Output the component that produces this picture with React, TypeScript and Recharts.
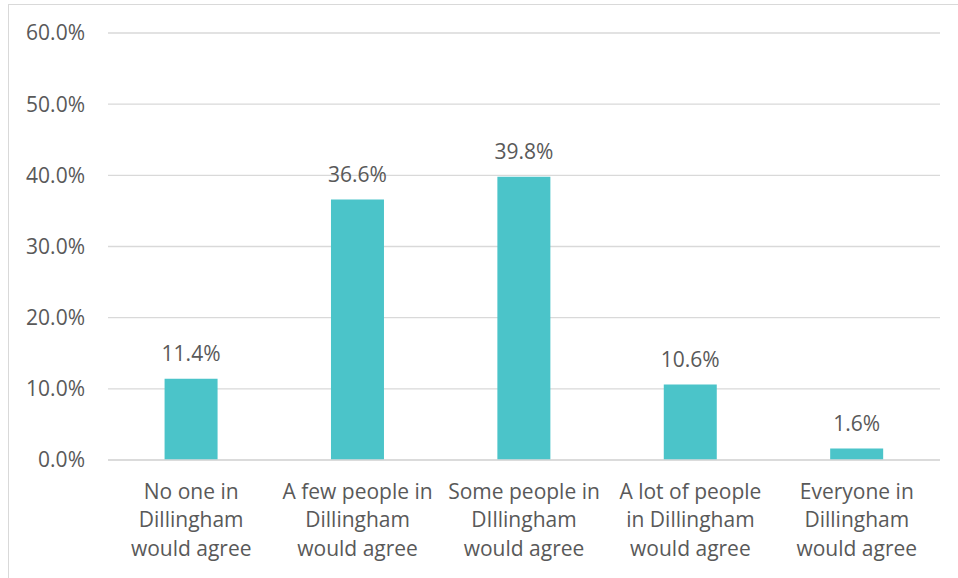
import { Bar, BarChart, CartesianGrid, LabelList, XAxis, YAxis } from "recharts";

// survey answers, values in percent
const categories = [
    ["No one in", "Dillingham", "would agree"],
    ["A few people in", "Dillingham", "would agree"],
    ["Some people in", "DIllingham", "would agree"],
    ["A lot of people", "in Dillingham", "would agree"],
    ["Everyone in", "Dillingham", "would agree"],
];
const shares = [11.4, 36.6, 39.8, 10.6, 1.6];
const yTicks = [0, 10, 20, 30, 40, 50, 60];

const data = categories.map((lines, i) => ({
    name: lines.join(" "),
    lines,
    value: shares[i],
}));

const FONT = "'Open Sans', sans-serif";
const TEXT = "#595959";
const GRID = "#d9d9d9";
const BAR = "#4bc4c9";
const SIZE = 21;

const pct = (v: number) => `${v.toFixed(1)}%`;

const CategoryTick = (props: any) => {
    const { x, y, payload } = props;
    const lines = categories[payload.index] || [];
    return (
        <text x={x} y={y} textAnchor="middle" fill={TEXT} fontSize={SIZE} fontFamily={FONT}>
            {lines.map((line, i) => (
                <tspan key={i} x={x} dy={i === 0 ? 38.5 : 28.5}>
                    {line}
                </tspan>
            ))}
        </text>
    );
};

const App = () => {
    return (
        <div style={{ position: "fixed", left: 0, top: 0, width: 958, height: 578, background: "#fff" }}>
            {/* chart frame, right and bottom edges fall outside the picture */}
            <div
                style={{
                    position: "absolute",
                    left: 8,
                    top: 4,
                    width: 950,
                    height: 574,
                    borderTop: `1.5px solid ${GRID}`,
                    borderLeft: `1.5px solid ${GRID}`,
                    boxSizing: "border-box",
                }}
            />
            <div style={{ position: "absolute", left: 0, top: 0 }}>
                <BarChart
                    width={958}
                    height={578}
                    data={data}
                    margin={{ top: 33, right: 18, bottom: 0, left: 0 }}
                    barCategoryGap="34%"
                >
                    <CartesianGrid vertical={false} stroke={GRID} strokeWidth={1.3} />
                    <XAxis
                        dataKey="name"
                        axisLine={{ stroke: GRID, strokeWidth: 1.3 }}
                        tickLine={false}
                        tickSize={0}
                        tickMargin={0}
                        height={118}
                        interval={0}
                        tick={<CategoryTick />}
                    />
                    <YAxis
                        domain={[0, 60]}
                        ticks={yTicks}
                        tickFormatter={pct}
                        axisLine={false}
                        tickLine={false}
                        tickSize={0}
                        tickMargin={23}
                        width={108}
                        tick={{ fill: TEXT, fontSize: SIZE, fontFamily: FONT }}
                    />
                    <Bar dataKey="value" fill={BAR} isAnimationActive={false}>
                        <LabelList
                            dataKey="value"
                            position="top"
                            offset={18}
                            formatter={(v: any) => pct(Number(v))}
                            fill={TEXT}
                            fontSize={SIZE}
                            fontFamily={FONT}
                        />
                    </Bar>
                </BarChart>
            </div>
        </div>
    );
};

export default App;
